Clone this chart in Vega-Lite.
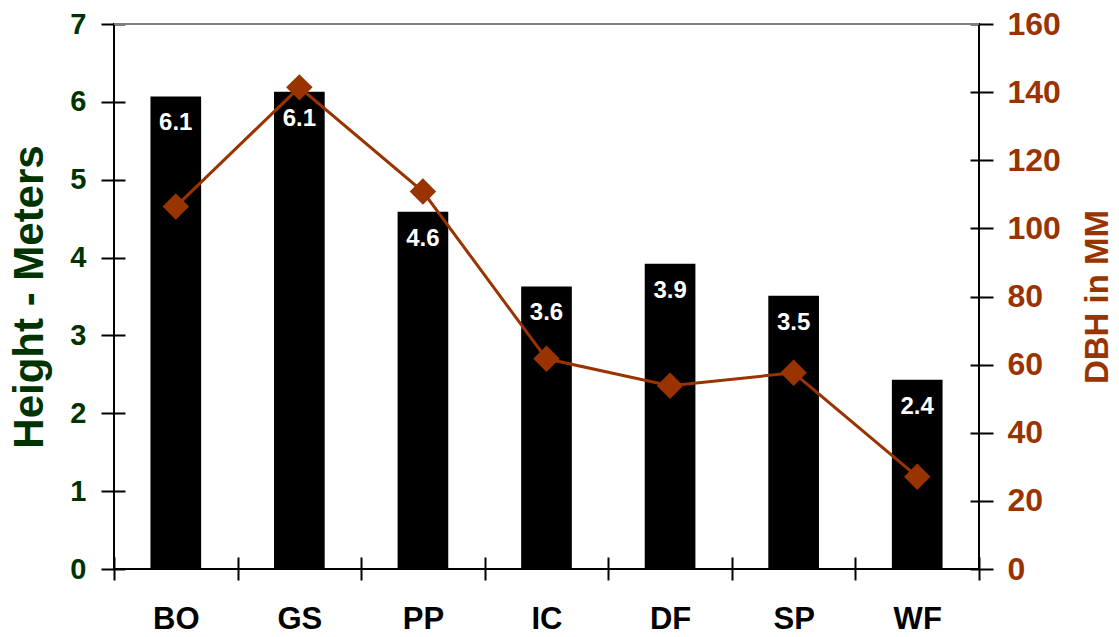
{
  "$schema": "https://vega.github.io/schema/vega-lite/v6.json",
  "width": 865,
  "height": 545,
  "autosize": {"type": "none"},
  "padding": {"left": 114, "top": 24, "right": 140, "bottom": 68},
  "background": "white",
  "config": {
    "view": {"stroke": "black", "strokeWidth": 2},
    "axis": {
      "domain": false,
      "grid": false,
      "tickColor": "black",
      "tickWidth": 2,
      "labelFont": "Liberation Sans",
      "labelFontWeight": "bold",
      "titleFont": "Liberation Sans",
      "titleFontWeight": "bold"
    }
  },
  "data": {
    "values": [
      {"species": "BO", "height": 6.07, "dbh": 106.4},
      {"species": "GS", "height": 6.13, "dbh": 141.4},
      {"species": "PP", "height": 4.59, "dbh": 110.8},
      {"species": "IC", "height": 3.63, "dbh": 61.7},
      {"species": "DF", "height": 3.92, "dbh": 53.8},
      {"species": "SP", "height": 3.51, "dbh": 57.6},
      {"species": "WF", "height": 2.43, "dbh": 27.1}
    ]
  },
  "layer": [
    {
      "encoding": {
        "x": {
          "field": "species",
          "type": "nominal",
          "sort": null,
          "scale": {"type": "band", "paddingInner": 0, "paddingOuter": 0},
          "axis": {
            "title": null,
            "labelAngle": 0,
            "tickBand": "extent",
            "offset": -12,
            "tickSize": 23,
            "labelPadding": 24,
            "labelFontSize": 31,
            "labelColor": "black"
          }
        }
      },
      "layer": [
        {
          "mark": {"type": "bar", "color": "black", "width": {"band": 0.41}},
          "encoding": {
            "y": {
              "field": "height",
              "type": "quantitative",
              "scale": {"domain": [0, 7]},
              "axis": {
                "title": "Height - Meters",
                "values": [0, 1, 2, 3, 4, 5, 6, 7],
                "offset": -11,
                "tickSize": 24,
                "labelPadding": 15,
                "labelFontSize": 29,
                "labelColor": "#003300",
                "titleColor": "#003300",
                "titleFontSize": 42,
                "titlePadding": 18
              }
            }
          }
        },
        {
          "mark": {
            "type": "text",
            "color": "white",
            "font": "Liberation Sans",
            "fontWeight": "bold",
            "fontSize": 24,
            "baseline": "alphabetic",
            "dy": 34
          },
          "encoding": {
            "y": {
              "field": "height",
              "type": "quantitative",
              "scale": {"domain": [0, 7]},
              "axis": null
            },
            "text": {"field": "height", "type": "quantitative", "format": ".1f"}
          }
        },
        {
          "mark": {
            "type": "line",
            "color": "#993300",
            "strokeWidth": 3,
            "point": {"shape": "diamond", "size": 700, "filled": true, "color": "#993300", "opacity": 1}
          },
          "encoding": {
            "y": {
              "field": "dbh",
              "type": "quantitative",
              "scale": {"domain": [0, 160]},
              "axis": {
                "title": "DBH in MM",
                "orient": "right",
                "values": [0, 20, 40, 60, 80, 100, 120, 140, 160],
                "offset": -9,
                "tickSize": 23,
                "labelPadding": 14,
                "labelFontSize": 32,
                "labelColor": "#993300",
                "titleColor": "#993300",
                "titleFontSize": 33,
                "titleAngle": -90,
                "titleBaseline": "top",
                "titlePadding": 21
              }
            }
          }
        }
      ],
      "resolve": {"scale": {"y": "independent"}}
    },
    {
      "mark": {"type": "rule", "color": "#808080", "strokeWidth": 2},
      "encoding": {
        "y": {"datum": 7, "type": "quantitative", "scale": {"domain": [0, 7]}, "axis": null}
      }
    }
  ],
  "resolve": {"scale": {"y": "independent"}}
}
